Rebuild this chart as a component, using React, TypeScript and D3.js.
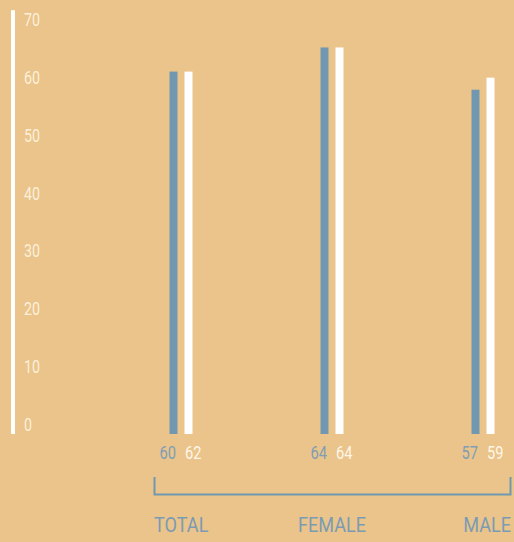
import React from "react";
import * as d3 from "d3";

const categories = ["TOTAL", "FEMALE", "MALE"];
const blueHeights = [60, 64, 57];
const whiteHeights = [60, 64, 59];
const blueLabels = ["60", "64", "57"];
const whiteLabels = ["62", "64", "59"];
const yTicks = [0, 10, 20, 30, 40, 50, 60, 70];

const W = 514;
const H = 542;
const BG = "#EAC48A";
const BLUE = "#7297B0";
const FONT = "Roboto, 'Liberation Sans', sans-serif";

function NarrowText(props: {
  x: number;
  y: number;
  sx: number;
  size: number;
  fill: string;
  anchor?: string;
  children: React.ReactNode;
}) {
  return (
    <g transform={`translate(${props.x},${props.y}) scale(${props.sx},1)`}>
      <text
        x={0}
        y={0}
        textAnchor={props.anchor || "start"}
        fontFamily={FONT}
        fontWeight={400}
        fontSize={props.size}
        fill={props.fill}
      >
        {props.children}
      </text>
    </g>
  );
}

export default function App() {
  const x = d3.scalePoint<string>().domain(categories).range([181, 483]);
  const yBar = d3.scaleLinear().domain([0, 70]).range([434, 434 - 70 * 6.04]);
  const yTick = d3.scaleLinear().domain([0, 70]).range([431, 26]);
  const barW = 8;
  const gap = 3.5;

  return (
    <svg
      width={W}
      height={H}
      style={{ position: "absolute", left: 0, top: 0, background: BG }}
    >
      <rect x={0} y={0} width={W} height={H} fill={BG} />
      <rect x={11} y={yBar(70) - 1} width={4} height={yBar(0) - yBar(70) + 1} fill="#FFFFFF" />
      {yTicks.map((t) => (
        <NarrowText key={t} x={24} y={yTick(t)} sx={0.78} size={18.3} fill="#FCF0DA">
          {t}
        </NarrowText>
      ))}
      {categories.map((c, i) => {
        const cx = x(c) as number;
        return (
          <g key={c}>
            <rect
              x={cx - gap - barW}
              y={yBar(blueHeights[i])}
              width={barW}
              height={yBar(0) - yBar(blueHeights[i])}
              fill={BLUE}
            />
            <rect
              x={cx + gap}
              y={yBar(whiteHeights[i])}
              width={barW}
              height={yBar(0) - yBar(whiteHeights[i])}
              fill="#FFFFFF"
            />
            <NarrowText x={cx - gap - 1.5} y={459} sx={0.8} size={18.3} fill="#7F9EB6" anchor="end">
              {blueLabels[i]}
            </NarrowText>
            <NarrowText x={cx + gap + 0.5} y={459} sx={0.8} size={18.3} fill="#FFF6E8">
              {whiteLabels[i]}
            </NarrowText>
          </g>
        );
      })}
      <path
        d="M154.5,477 V494.5 H510.5 V477"
        fill="none"
        stroke={BLUE}
        strokeWidth={2}
      />
      {categories.map((c, i) => {
        const anchor = i === 0 ? "start" : i === categories.length - 1 ? "end" : "middle";
        const px = i === 0 ? 154 : i === categories.length - 1 ? 511 : (x(c) as number);
        return (
          <NarrowText key={c} x={px} y={532} sx={0.92} size={19.7} fill="#7B9BB4" anchor={anchor}>
            {c}
          </NarrowText>
        );
      })}
    </svg>
  );
}
